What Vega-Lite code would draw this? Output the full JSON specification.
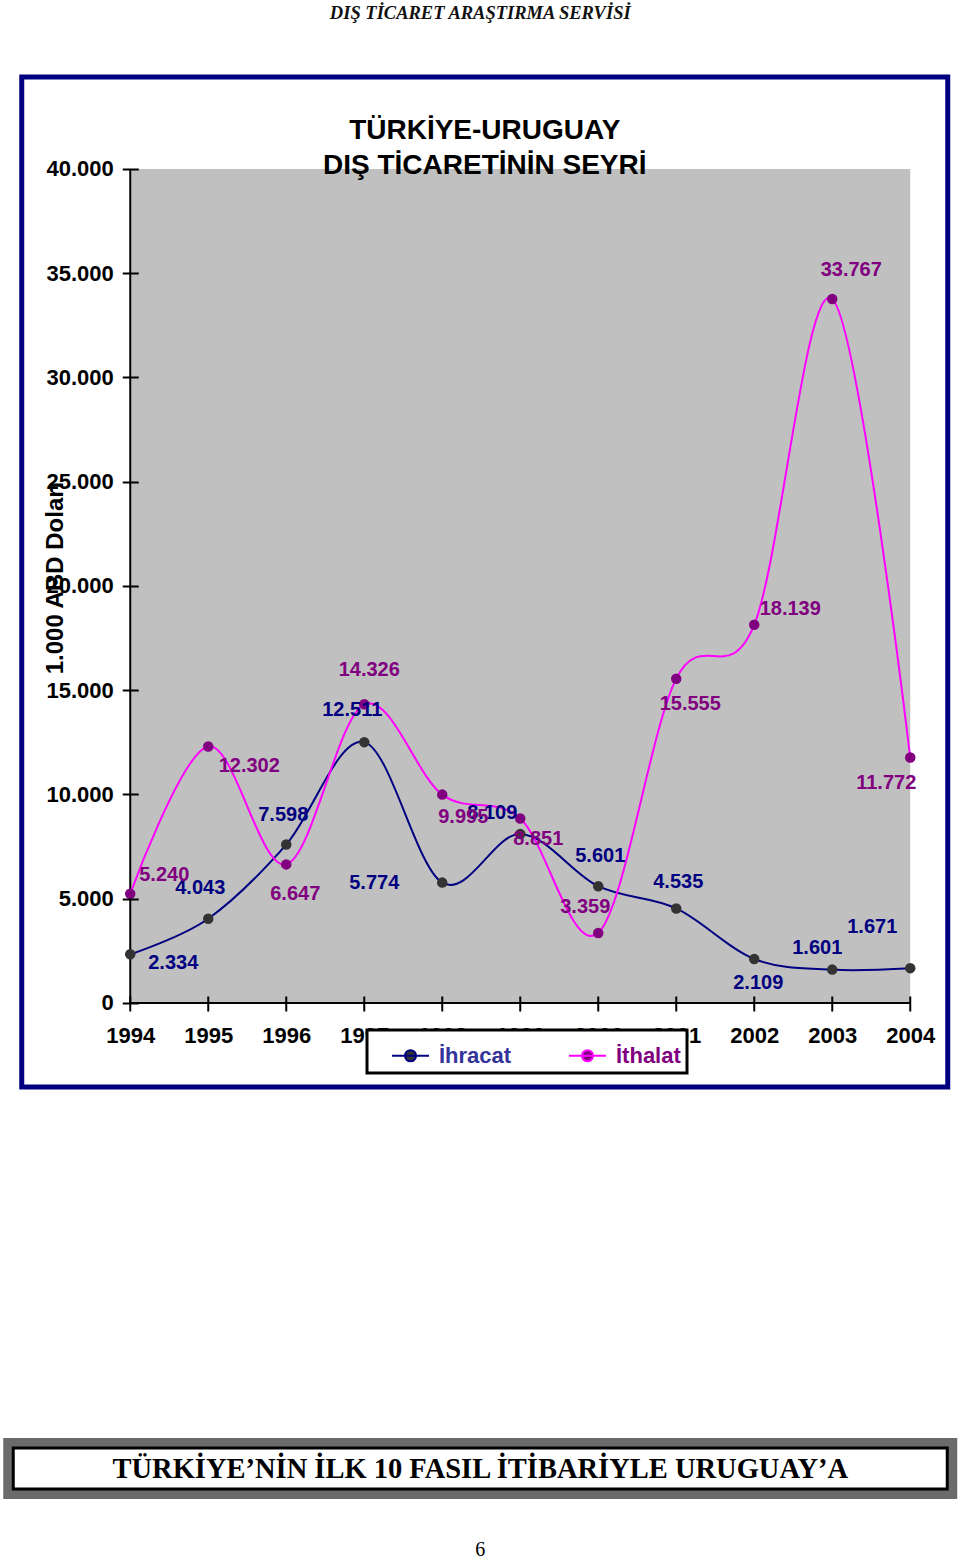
{
  "$schema": "https://vega.github.io/schema/vega-lite/v6.json",
  "background": "white",
  "padding": {"left": 1, "top": 4, "right": 0, "bottom": 0},
  "title": {"text": "DIŞ TİCARET ARAŞTIRMA SERVİSİ", "font": "Liberation Serif", "fontSize": 18.5, "fontWeight": "bold", "fontStyle": "italic", "color": "#111111", "anchor": "middle", "offset": 52},
  "spacing": 346,
  "center": true,
  "config": {
    "locale": {"number": {"decimal": ",", "thousands": ".", "grouping": [3], "currency": ["", ""]}},
    "font": "Liberation Sans",
    "legend": {"strokeWidth": 3},
    "axis": {"labelFont": "Liberation Sans", "labelFontSize": 22, "labelFontWeight": "bold", "labelColor": "black", "tickColor": "black", "tickWidth": 2, "domain": false, "grid": false, "labelOverlap": false, "labelFlush": false, "labelBound": false}
  },
  "vconcat": [
    {
      "width": 926,
      "height": 1010,
      "view": {"stroke": "#000080", "strokeWidth": 5, "fill": "white"},
      "title": {"text": ["TÜRKİYE-URUGUAY", "DIŞ TİCARETİNİN SEYRİ"], "font": "Liberation Sans", "fontSize": 28, "fontWeight": "bold", "lineHeight": 35, "color": "black", "anchor": "middle", "frame": "group", "baseline": "top", "offset": -103},
      "data": {"values": [
        {"year": 1994, "series": "İhracat", "value": 2334},
        {"year": 1995, "series": "İhracat", "value": 4043},
        {"year": 1996, "series": "İhracat", "value": 7598},
        {"year": 1997, "series": "İhracat", "value": 12511},
        {"year": 1998, "series": "İhracat", "value": 5774},
        {"year": 1999, "series": "İhracat", "value": 8109},
        {"year": 2000, "series": "İhracat", "value": 5601},
        {"year": 2001, "series": "İhracat", "value": 4535},
        {"year": 2002, "series": "İhracat", "value": 2109},
        {"year": 2003, "series": "İhracat", "value": 1601},
        {"year": 2004, "series": "İhracat", "value": 1671},
        {"year": 1994, "series": "İthalat", "value": 5240},
        {"year": 1995, "series": "İthalat", "value": 12302},
        {"year": 1996, "series": "İthalat", "value": 6647},
        {"year": 1997, "series": "İthalat", "value": 14326},
        {"year": 1998, "series": "İthalat", "value": 9995},
        {"year": 1999, "series": "İthalat", "value": 8851},
        {"year": 2000, "series": "İthalat", "value": 3359},
        {"year": 2001, "series": "İthalat", "value": 15555},
        {"year": 2002, "series": "İthalat", "value": 18139},
        {"year": 2003, "series": "İthalat", "value": 33767},
        {"year": 2004, "series": "İthalat", "value": 11772}
      ]},
      "layer": [
        {
          "data": {"values": [{}]},
          "mark": {"type": "rect", "fill": "#c0c0c0"},
          "encoding": {
            "x": {"datum": 1994, "type": "quantitative",
              "scale": {"domain": [1992.609, 2004.481], "nice": false, "zero": false}},
            "x2": {"datum": 2004},
            "y": {"datum": 0, "type": "quantitative",
              "scale": {"domain": [-4029, 44412], "nice": false, "zero": false}},
            "y2": {"datum": 40000}
          }
        },
        {
          "data": {"values": [{}]},
          "mark": {"type": "rule", "stroke": "black", "strokeWidth": 2},
          "encoding": {
            "x": {"datum": 1994, "type": "quantitative"},
            "y": {"datum": 0, "type": "quantitative"},
            "y2": {"datum": 40000}
          }
        },
        {
          "data": {"values": [{}]},
          "mark": {"type": "rule", "stroke": "black", "strokeWidth": 2},
          "encoding": {
            "x": {"datum": 1994, "type": "quantitative"},
            "x2": {"datum": 2004},
            "y": {"datum": 0, "type": "quantitative"}
          }
        },
        {
          "mark": {"type": "line", "interpolate": "cardinal", "strokeWidth": 2},
          "encoding": {
            "x": {"field": "year", "type": "quantitative",
              "scale": {"domain": [1992.609, 2004.481], "nice": false, "zero": false},
              "axis": {"orient": "bottom", "offset": -91, "values": [1994, 1995, 1996, 1997, 1998, 1999, 2000, 2001, 2002, 2003, 2004], "format": "d", "tickSize": 15, "labelPadding": 14, "title": null, "zindex": 1}},
            "y": {"field": "value", "type": "quantitative",
              "scale": {"domain": [-4029, 44412], "nice": false, "zero": false},
              "axis": {"orient": "left", "offset": -116.5, "values": [0, 5000, 10000, 15000, 20000, 25000, 30000, 35000, 40000], "format": ",d", "tickSize": 16, "labelPadding": 9, "title": "1.000 ABD Doları", "titleX": -76, "titleY": 500.5, "titleAngle": -90, "titleAlign": "center", "titleBaseline": "alphabetic", "titleFontSize": 24, "titleFontWeight": "bold", "titleFont": "Liberation Sans", "titleColor": "black", "zindex": 1}},
            "stroke": {"field": "series", "type": "nominal",
              "scale": {"domain": ["İhracat", "İthalat"], "range": ["#000080", "#ff00ff"]},
              "legend": {"orient": "none", "legendX": 354, "legendY": 953, "direction": "horizontal", "title": null,
                "fillColor": "white", "strokeColor": "black", "padding": 6, "symbolOffset": 18,
                "symbolType": "M-1,0H1M0.3,0A0.3,0.3,0,1,1,-0.3,0A0.3,0.3,0,1,1,0.3,0Z",
                "symbolSize": 1369, "symbolStrokeWidth": 2,
                "symbolFillColor": {"expr": "datum.value == 'İhracat' ? '#333333' : '#800080'"},
                "labelFont": "Liberation Sans", "labelFontSize": 22, "labelFontWeight": "bold", "labelOffset": 9, "columnPadding": 38,
                "labelColor": {"expr": "datum.value == 'İhracat' ? '#333399' : '#800080'"},
                "zindex": 2}}
          }
        },
        {
          "mark": {"type": "circle", "size": 110, "opacity": 1},
          "encoding": {
            "x": {"field": "year", "type": "quantitative"},
            "y": {"field": "value", "type": "quantitative"},
            "fill": {"field": "series", "type": "nominal",
              "scale": {"domain": ["İhracat", "İthalat"], "range": ["#333333", "#800080"]}, "legend": null}
          }
        },
        {
          "transform": [{"filter": "datum.series == 'İhracat'"}],
          "mark": {"type": "text", "font": "Liberation Sans", "fontSize": 20, "fontWeight": "bold", "fill": "#000080", "align": "center", "baseline": "middle",
            "dx": {"expr": "[43,-8,-3,-12,-68,-28,2,2,4,-15,-38][datum.year-1994]"},
            "dy": {"expr": "[9,-31,-30,-32,0,-21,-30,-26,24,-22,-41][datum.year-1994]"}},
          "encoding": {
            "x": {"field": "year", "type": "quantitative"},
            "y": {"field": "value", "type": "quantitative"},
            "text": {"field": "value", "type": "quantitative", "format": ",d"}
          }
        },
        {
          "transform": [{"filter": "datum.series == 'İthalat'"}],
          "mark": {"type": "text", "font": "Liberation Sans", "fontSize": 20, "fontWeight": "bold", "fill": "#800080", "align": "center", "baseline": "middle",
            "dx": {"expr": "[34,41,9,5,21,18,-13,14,36,19,-24][datum.year-1994]"},
            "dy": {"expr": "[-19,20,30,-34,22,21,-26,25,-16,-29,25][datum.year-1994]"}},
          "encoding": {
            "x": {"field": "year", "type": "quantitative"},
            "y": {"field": "value", "type": "quantitative"},
            "text": {"field": "value", "type": "quantitative", "format": ",d"}
          }
        }
      ]
    },
    {
      "width": 934,
      "height": 41,
      "view": {"stroke": "#6b6b6b", "strokeWidth": 20, "fill": "white"},
      "title": {"text": "6", "orient": "bottom", "font": "Liberation Serif", "fontSize": 20, "fontWeight": "normal", "color": "black", "anchor": "middle", "offset": 49},
      "data": {"values": [{"t": "TÜRKİYE’NİN İLK 10 FASIL İTİBARİYLE URUGUAY’A"}]},
      "layer": [
        {"mark": {"type": "rect", "fill": "white", "stroke": "black", "strokeWidth": 3}, "encoding": {}},
        {"mark": {"type": "text", "font": "Liberation Serif", "fontSize": 28.5, "fontWeight": "bold", "color": "black", "baseline": "middle", "align": "center"},
         "encoding": {"text": {"field": "t", "type": "nominal"}}}
      ]
    }
  ]
}
